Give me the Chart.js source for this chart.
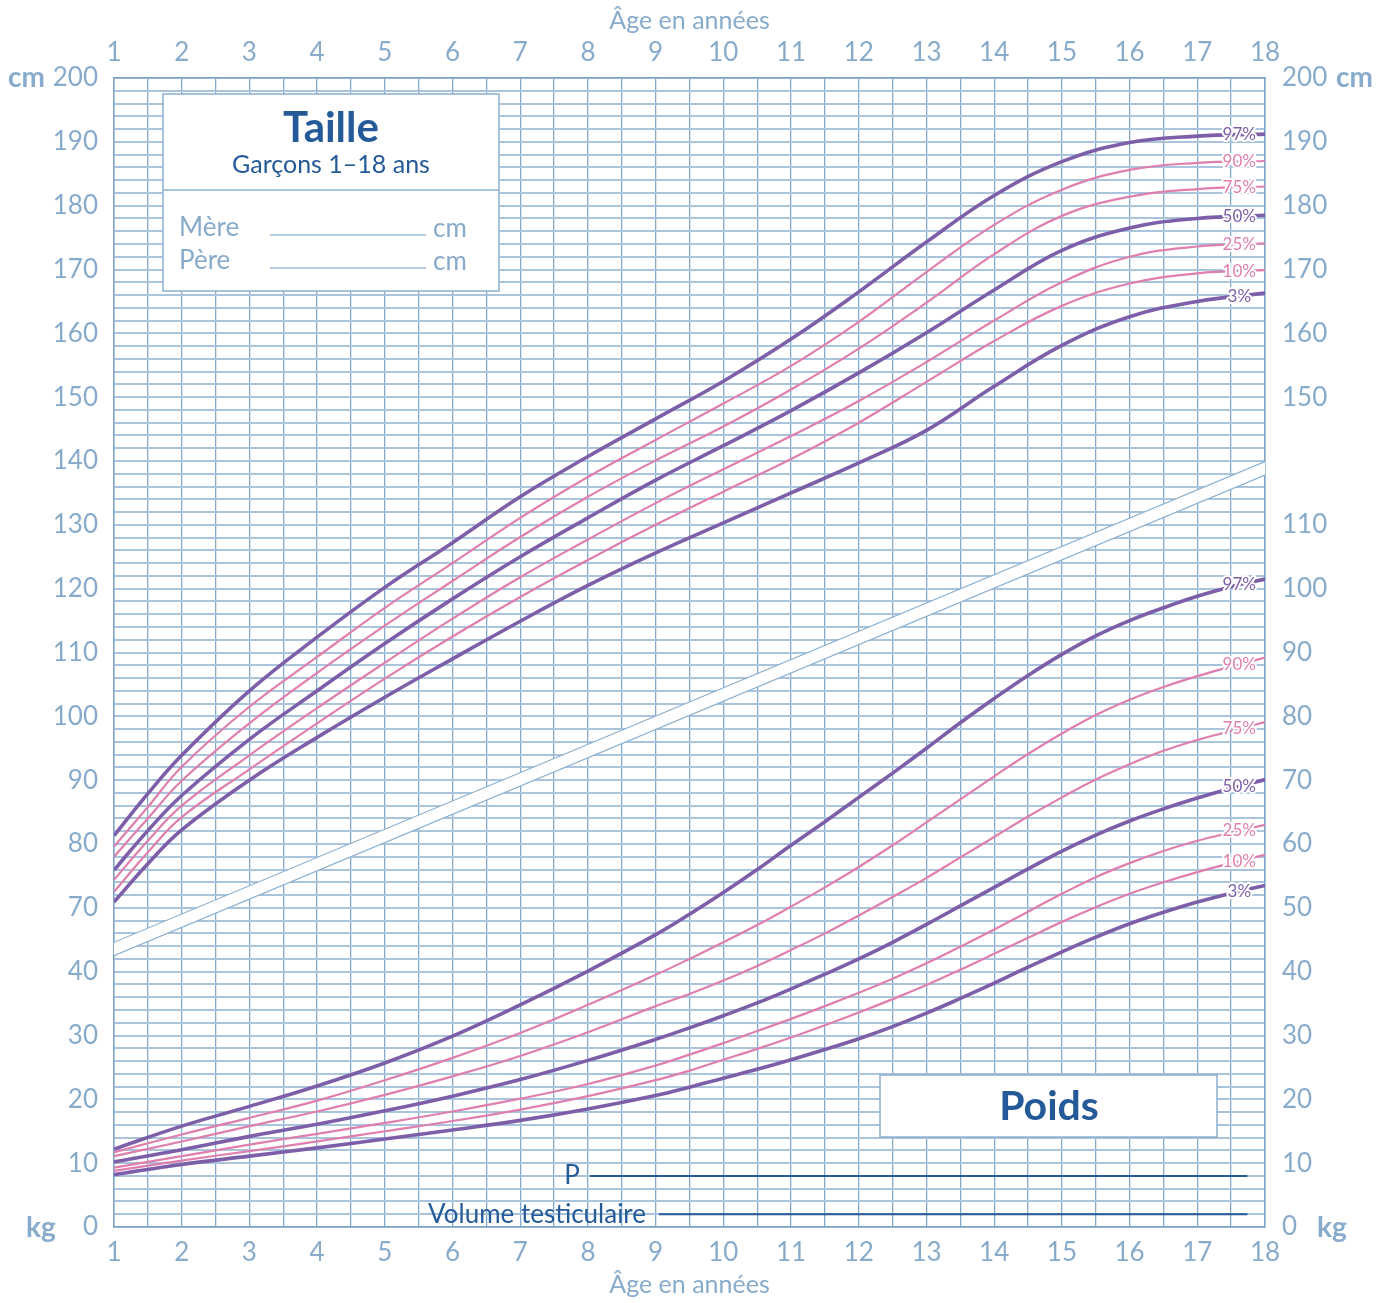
<!DOCTYPE html>
<html><head><meta charset="utf-8">
<script src="https://cdn.jsdelivr.net/npm/chart.js@4/dist/chart.umd.min.js"></script>
<style>html,body{margin:0;padding:0;background:#fff;}#wrap{width:1390px;height:1303px;}</style>
</head><body><div id="wrap"><canvas id="c" width="1390" height="1303"></canvas></div>
<script>
// ---- data ----
const heightAges = [1,1.5,2,3,4,5,6,7,8,9,10,11,12,13,14,15,16,17,18];
const h97 = [81.3,87.9,93.9,104.0,112.4,120.2,127.2,134.4,140.7,146.6,152.5,159.1,166.5,174.3,181.6,186.9,189.9,190.9,191.2];
const h90 = [79.6,85.8,92.1,101.5,109.3,117.0,124.0,131.1,137.5,143.3,149.0,154.9,161.8,169.6,177.0,182.5,185.6,186.7,187.0];
const h75 = [78.0,84.0,89.9,98.9,106.8,114.2,121.2,128.1,134.4,140.1,145.4,151.2,157.6,164.8,172.4,178.4,181.4,182.6,183.0];
const h50 = [75.9,82.1,87.6,96.4,104.0,111.4,118.4,125.0,131.1,137.0,142.4,147.9,153.8,160.1,166.8,173.0,176.5,178.0,178.5];
const h25 = [74.4,80.5,86.0,93.9,101.3,108.4,115.3,121.8,127.7,133.4,138.7,143.9,149.4,155.5,162.0,168.0,172.0,173.6,174.1];
const h10 = [72.5,78.7,84.2,91.7,98.9,105.9,112.5,118.7,124.5,130.0,135.2,140.3,146.0,152.4,158.8,164.3,167.8,169.4,169.9];
const h3  = [70.9,76.9,82.2,90.0,96.7,103.0,109.0,114.9,120.5,125.6,130.3,135.0,139.7,144.8,151.7,158.1,162.6,165.0,166.3];

const weightAges = [1,2,3,4,5,6,7,8,9,9.5,10,10.5,11,11.5,12,12.5,13,13.5,14,14.5,15,15.5,16,16.5,17,17.5,18];
const w97 = [12.2,15.8,18.9,22.1,25.7,29.9,34.8,40.1,45.8,49.0,52.4,56.0,59.8,63.5,67.3,71.1,75.0,79.0,82.8,86.4,89.7,92.6,95.0,97.0,98.8,100.3,101.5];
const w90 = [11.7,14.5,17.1,19.8,23.0,26.5,30.4,34.8,39.5,42.0,44.6,47.3,50.2,53.2,56.4,59.8,63.4,67.0,70.6,74.1,77.3,80.2,82.6,84.6,86.3,87.8,89.2];
const w75 = [11.1,13.4,15.8,18.1,20.7,23.6,26.8,30.5,34.6,36.5,38.6,40.9,43.4,46.0,48.8,51.7,54.7,57.9,61.1,64.3,67.3,70.1,72.5,74.6,76.3,77.7,79.1];
const w50 = [10.2,12.1,14.2,16.1,18.2,20.5,23.1,26.1,29.4,31.2,33.1,35.1,37.3,39.6,42.0,44.6,47.4,50.3,53.2,56.1,58.9,61.4,63.6,65.5,67.2,68.7,70.1];
const w25 = [9.3,11.1,12.9,14.6,16.3,18.1,20.1,22.4,25.3,27.0,28.8,30.7,32.6,34.6,36.7,38.9,41.3,43.9,46.6,49.4,52.2,54.8,57.0,58.9,60.5,61.8,63.0];
const w10 = [8.8,10.4,11.9,13.4,15.0,16.6,18.4,20.5,23.0,24.5,26.2,27.9,29.7,31.6,33.6,35.7,37.9,40.3,42.8,45.3,47.8,50.1,52.2,54.0,55.6,57.0,58.3];
const w3  = [8.2,9.8,11.1,12.4,13.8,15.2,16.7,18.5,20.6,21.9,23.3,24.7,26.2,27.8,29.5,31.4,33.5,35.8,38.2,40.7,43.1,45.4,47.5,49.3,50.9,52.3,53.5];

const percentiles = ['97%','90%','75%','50%','25%','10%','3%'];
const bandAges = [1,18];
const bandUpper = [44.6,119.9];
const bandLower = [42.5,117.8];

const xTickLabels = [1,2,3,4,5,6,7,8,9,10,11,12,13,14,15,16,17,18];
// chart scale: weight kg plotted as is, height cm plotted as cm - 20
const heightShift = 20;

// ---- styles ----
const PURPLE = '#7d5ea8', PINK = '#df7fae';
const TICK = '#88abcb', DARK = '#255a99';
const GRID_H = '#a9c4dc', GRID_V = '#84aacb', FRAME = '#7ea5c7';
const FONT = 'Lato, "Open Sans", sans-serif';

const heightSets = [h97,h90,h75,h50,h25,h10,h3];
const weightSets = [w97,w90,w75,w50,w25,w10,w3];
const isMain = p => p==='97%'||p==='50%'||p==='3%';

const datasets = [];
function addCurve(prefix, arr, agesArr, pct, shift){
  datasets.push({label:prefix+' '+pct, pct,
    data: agesArr.map((a,k)=>({x:a,y:arr[k]-shift})),
    borderColor: isMain(pct)?PURPLE:PINK,
    borderWidth: isMain(pct)?3.6:2.2,
    pointRadius:0, fill:false, tension:0.4});
}
heightSets.forEach((arr,i)=>addCurve('Taille', arr, heightAges, percentiles[i], heightShift));
weightSets.forEach((arr,i)=>addCurve('Poids', arr, weightAges, percentiles[i], 0));
datasets.push({label:'bandU', data: bandAges.map((a,k)=>({x:a,y:bandUpper[k]})),
  borderColor:'#8cb0cf', borderWidth:1.2, pointRadius:0, fill:false, tension:0});
datasets.push({label:'bandL', data: bandAges.map((a,k)=>({x:a,y:bandLower[k]})),
  borderColor:'#8cb0cf', borderWidth:1.2, pointRadius:0, fill:'-1', backgroundColor:'#ffffff', tension:0});

function isTen(v){ return Math.abs(v - Math.round(v/10)*10) < 1e-6; }
function isInt(v){ return Math.abs(v - Math.round(v)) < 1e-6; }

const decorPlugin = {
  id:'decor',
  beforeDatasetsDraw(chart){
    const ctx = chart.ctx, xs = chart.scales.x, ys = chart.scales.y;
    ctx.save();
    // Taille box
    const bx = 163, by = 94, bw = 336, bh = 197;
    ctx.fillStyle = '#fff'; ctx.fillRect(bx,by,bw,bh);
    ctx.strokeStyle = '#8cb0cf'; ctx.lineWidth = 1.5; ctx.strokeRect(bx,by,bw,bh);
    ctx.beginPath(); ctx.moveTo(bx,190); ctx.lineTo(bx+bw,190); ctx.stroke();
    ctx.fillStyle = DARK; ctx.textAlign='center'; ctx.textBaseline='middle';
    ctx.font = 'bold 42px '+FONT; ctx.fillText('Taille', 331, 128);
    ctx.font = '25px '+FONT; ctx.fillText('Garçons 1–18 ans', 331, 165);
    ctx.fillStyle = TICK; ctx.textAlign='left'; ctx.font='26px '+FONT;
    ctx.fillText('Mère', 179, 228); ctx.fillText('Père', 179, 261);
    ctx.fillText('cm', 433, 229); ctx.fillText('cm', 433, 262);
    ctx.strokeStyle = '#9dbad5'; ctx.lineWidth = 1.5;
    ctx.beginPath(); ctx.moveTo(270,235); ctx.lineTo(426,235); ctx.moveTo(270,268); ctx.lineTo(426,268); ctx.stroke();
    // Poids box
    ctx.fillStyle = '#fff'; ctx.fillRect(880,1075,337,62);
    ctx.strokeStyle = '#8cb0cf'; ctx.lineWidth = 1.5; ctx.strokeRect(880,1075,337,62);
    ctx.fillStyle = DARK; ctx.textAlign='center'; ctx.font='bold 41px '+FONT;
    ctx.fillText('Poids', 1049, 1107);
    // P and testicular volume lines
    ctx.strokeStyle = DARK; ctx.lineWidth = 2;
    ctx.beginPath();
    ctx.moveTo(xs.getPixelForValue(8.03), ys.getPixelForValue(8)); ctx.lineTo(xs.getPixelForValue(17.74), ys.getPixelForValue(8));
    ctx.moveTo(xs.getPixelForValue(9.05), ys.getPixelForValue(2)); ctx.lineTo(xs.getPixelForValue(17.74), ys.getPixelForValue(2));
    ctx.stroke();
    ctx.fillStyle = DARK; ctx.textAlign='right'; ctx.font='26px '+FONT;
    ctx.fillText('P', xs.getPixelForValue(8.03)-10, ys.getPixelForValue(8));
    ctx.fillText('Volume testiculaire', xs.getPixelForValue(9.05)-13, ys.getPixelForValue(2));
    ctx.restore();
  },
  afterDatasetsDraw(chart){
    const ctx = chart.ctx, xs = chart.scales.x;
    const tx = xs.getPixelForValue(17.62);
    ctx.save();
    ctx.font = '17px '+FONT; ctx.textAlign='center'; ctx.textBaseline='middle';
    chart.data.datasets.forEach((ds,i)=>{
      if(!ds.pct) return;
      const pts = chart.getDatasetMeta(i).data;
      let y = null;
      for(let k=0;k<pts.length-1;k++){
        if(pts[k].x<=tx && pts[k+1].x>=tx){
          const t=(tx-pts[k].x)/(pts[k+1].x-pts[k].x); y=pts[k].y+t*(pts[k+1].y-pts[k].y); break;
        }
      }
      if(y===null) return;
      ctx.lineWidth = 4; ctx.strokeStyle='#fff'; ctx.lineJoin='round';
      ctx.strokeText(ds.pct, tx, y);
      ctx.fillStyle = ds.borderColor; ctx.fillText(ds.pct, tx, y);
    });
    ctx.restore();
  },
  afterDraw(chart){
    const ctx = chart.ctx;
    ctx.save(); ctx.fillStyle = TICK; ctx.textBaseline='middle';
    ctx.font = 'bold 28px '+FONT; ctx.textAlign='left';
    ctx.fillText('cm', 8, 78); ctx.fillText('kg', 26, 1228);
    ctx.fillText('cm', 1336, 78); ctx.fillText('kg', 1317, 1228);
    ctx.restore();
  }
};

const tickFont = {family: FONT, size: 26};
const titleFont = {family: FONT, size: 25};
new Chart(document.getElementById('c'), {
  type:'line',
  data:{datasets},
  plugins:[decorPlugin],
  options:{
    responsive:false, animation:false, devicePixelRatio:1,
    layout:{padding:0},
    plugins:{legend:{display:false}, tooltip:{enabled:false}},
    scales:{
      x:{type:'linear', position:'bottom', min:1, max:18,
        ticks:{stepSize:0.5, autoSkip:false, maxRotation:0, color:TICK, font:tickFont, padding:10,
          callback:v=> isInt(v) && xTickLabels.includes(Math.round(v)) ? String(Math.round(v)) : ''},
        grid:{color:GRID_V, lineWidth:1.3, drawTicks:false},
        border:{display:true, color:FRAME, width:1.5},
        title:{display:true, text:'Âge en années', color:TICK, font:titleFont, padding:{top:0,bottom:3}},
        afterFit:s=>{s.height=76;}},
      x2:{type:'linear', position:'top', min:1, max:18,
        ticks:{stepSize:0.5, autoSkip:false, maxRotation:0, color:TICK, font:tickFont, padding:10,
          callback:v=> isInt(v) && xTickLabels.includes(Math.round(v)) ? String(Math.round(v)) : ''},
        grid:{display:false, drawTicks:false},
        border:{display:true, color:FRAME, width:1.5},
        title:{display:true, text:'Âge en années', color:TICK, font:titleFont, padding:{top:6,bottom:0}},
        afterFit:s=>{s.height=78;}},
      y:{type:'linear', position:'left', min:0, max:180,
        ticks:{stepSize:2, autoSkip:false, color:TICK, font:tickFont, padding:16,
          callback:v=> isTen(v) ? String(Math.round(v)<=40 ? Math.round(v) : Math.round(v)+heightShift) : ''},
        grid:{color:GRID_H, lineWidth:2, drawTicks:false},
        border:{display:true, color:FRAME, width:1.5},
        afterFit:s=>{s.width=114;}},
      y2:{type:'linear', position:'right', min:0, max:180,
        ticks:{stepSize:10, autoSkip:false, color:TICK, font:tickFont, padding:17,
          callback:v=>{const r=Math.round(v); return r<=110 ? String(r) : (r>=130 ? String(r+heightShift) : '');}},
        grid:{display:false, drawTicks:false},
        border:{display:true, color:FRAME, width:1.5},
        afterFit:s=>{s.width=125;}}
    }
  }
});
</script></body></html>
